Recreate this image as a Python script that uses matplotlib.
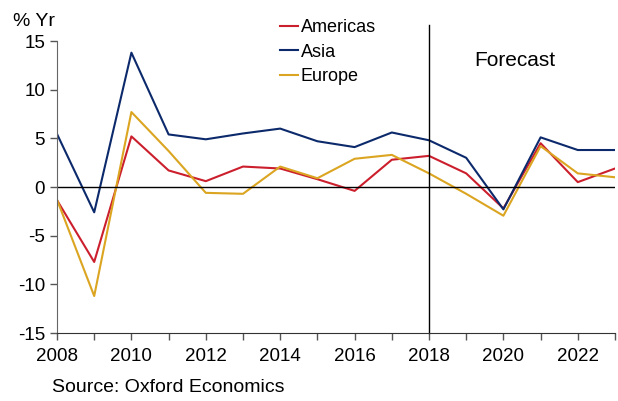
import matplotlib
matplotlib.use("Agg")
import matplotlib.pyplot as plt

years = list(range(2008, 2024))
americas = [-1.35, -7.7, 5.2, 1.7, 0.6, 2.1, 1.9, 0.8, -0.4, 2.8, 3.2, 1.4, -2.2, 4.5, 0.5, 1.9]
asia = [5.45, -2.6, 13.8, 5.4, 4.9, 5.5, 6.0, 4.7, 4.1, 5.6, 4.8, 3.0, -2.3, 5.1, 3.8, 3.8]
europe = [-1.3, -11.2, 7.7, 3.7, -0.6, -0.7, 2.1, 0.9, 2.9, 3.3, 1.4, -0.7, -2.95, 4.2, 1.4, 1.0]
xtick_labels = ["2008", "2010", "2012", "2014", "2016", "2018", "2020", "2022"]
forecast_year = 2018

plt.rcParams['font.family'] = ['Liberation Sans', 'DejaVu Sans']
plt.rcParams['axes.unicode_minus'] = False

fig = plt.figure(figsize=(6.18, 4.01), dpi=100)
ax = fig.add_axes([57/618, 1-333/401, (615-57)/618, (333-41)/401])

ax.plot(years, americas, color="#cc1f2d", lw=1.5, label="Americas")
ax.plot(years, asia, color="#0c2a6b", lw=1.5, label="Asia")
ax.plot(years, europe, color="#dba521", lw=1.5, label="Europe")

ax.axhline(0, color="black", lw=1)
ax.plot([forecast_year, forecast_year], [-15, 16.6], color="black", lw=1, clip_on=False)

ax.set_xlim(2008, 2023)
ax.set_ylim(-15, 15)
ax.set_yticks([-15, -10, -5, 0, 5, 10, 15])
ax.set_xticks(years, minor=False)
ax.set_xticklabels([str(y) if str(y) in xtick_labels else "" for y in years])
ax.tick_params(axis="both", labelsize=13.5, direction="out", length=5, color="#555555", width=1)
ax.tick_params(axis="x", pad=6)
for s in ["top", "right"]:
    ax.spines[s].set_visible(False)
ax.spines["left"].set_color("#666666")
ax.spines["bottom"].set_color("#333333")

leg = ax.legend(loc="upper left", bbox_to_anchor=((280-57)/558, 1 + (41-19)/292), frameon=False,
                fontsize=13, handlelength=1.0, handletextpad=0.15, labelspacing=0.42,
                borderaxespad=0, borderpad=0)

fig.text(13/618, 1-22/401, "% Yr", fontsize=14, va="center", ha="left")
ax.text(2020.3, 13.0, "Forecast", fontsize=15, ha="center", va="center")
fig.text(52/618, 1-387/401, "Source: Oxford Economics", fontsize=14, va="center", ha="left")

fig.savefig("out.png", dpi=100)
